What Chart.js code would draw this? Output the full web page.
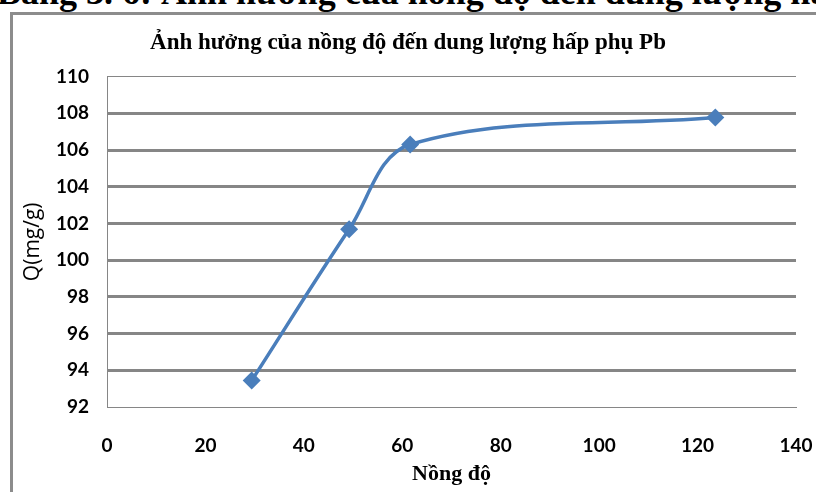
<!DOCTYPE html>
<html>
<head>
<meta charset="utf-8">
<script src="https://cdn.jsdelivr.net/npm/chart.js@4"></script>
<style>
  body { margin: 0; background: #fff; }
  #wrap { position: relative; width: 816px; height: 492px; overflow: hidden; background: #fff; }
  #caption { position: absolute; left: -3px; top: -26px; white-space: nowrap;
    font: bold 36px "Liberation Serif", serif; line-height: 36px; color: #000; }
  #frame { position: absolute; left: 10px; top: 12px; width: 900px; height: 600px;
    border-left: 3px solid #8c8c8c; border-top: 3px solid #8c8c8c; }
  #chart { position: absolute; left: 0; top: 0; }
</style>
</head>
<body>
<div id="wrap">
  <div id="caption">Bảng 3. 6: Ảnh hưởng của nồng độ đến dung lượng hấp phụ Pb</div>
  <div id="frame"></div>
  <canvas id="chart" width="816" height="492"></canvas>
</div>
<script>
const chartTitle = 'Ảnh hưởng của nồng độ đến dung lượng hấp phụ Pb';
const xLabel = 'Nồng độ';
const yLabel = 'Q(mg/g)';

const concentration = [29.4, 49.2, 61.6, 123.6];
const capacity = [93.44, 101.68, 106.3, 107.77];

const xRange = [0, 140, 20];
const yRange = [92, 110, 2];

const blue = '#4a7ebb';
const gridGray = '#868686';

const points = concentration.map((x, i) => ({ x: x, y: capacity[i] }));

const ctx = document.getElementById('chart').getContext('2d');
new Chart(ctx, {
    type: 'scatter',
    data: {
        datasets: [{
            data: points,
            showLine: true,
            tension: 0.35,
            borderColor: blue,
            borderWidth: 3.5,
            backgroundColor: blue,
            pointStyle: 'rectRot',
            pointRadius: 9,
            pointBorderWidth: 0
        }]
    },
    options: {
        responsive: false,
        animation: false,
        layout: {
            padding: { left: 0, top: 14, right: 0, bottom: 0 }
        },
        plugins: {
            legend: { display: false },
            tooltip: { enabled: false },
            title: {
                display: true,
                text: chartTitle,
                color: '#000',
                font: { family: '"Liberation Serif", serif', size: 23, weight: 'bold' },
                padding: { top: 15, bottom: 20 }
            }
        },
        scales: {
            x: {
                type: 'linear',
                min: xRange[0],
                max: xRange[1],
                afterFit: (scale) => { scale.height = 85; scale.paddingRight = 20; },
                ticks: {
                    stepSize: xRange[2],
                    padding: 27,
                    color: '#000',
                    font: { family: 'Lato, sans-serif', size: 19, weight: 'bold' }
                },
                grid: { display: false, drawTicks: false },
                border: { display: true, color: gridGray, width: 1 },
                title: {
                    display: true,
                    text: xLabel,
                    color: '#000',
                    font: { family: '"Liberation Serif", serif', size: 22, weight: 'bold' },
                    padding: { top: 0, bottom: 4 }
                }
            },
            y: {
                min: yRange[0],
                max: yRange[1],
                afterFit: (scale) => { scale.width = 107; },
                ticks: {
                    stepSize: yRange[2],
                    padding: 18,
                    color: '#000',
                    font: { family: 'Lato, sans-serif', size: 19, weight: 'bold' }
                },
                grid: {
                    drawTicks: false,
                    color: gridGray,
                    lineWidth: (c) => (c.tick && (c.tick.value === yRange[0] || c.tick.value === yRange[1])) ? 1 : 3
                },
                border: { display: true, color: gridGray, width: 1 },
                title: {
                    display: true,
                    text: yLabel,
                    color: '#000',
                    font: { family: '"Open Sans", sans-serif', size: 21 },
                    padding: { top: 20, bottom: 0 }
                }
            }
        }
    }
});
</script>
</body>
</html>
